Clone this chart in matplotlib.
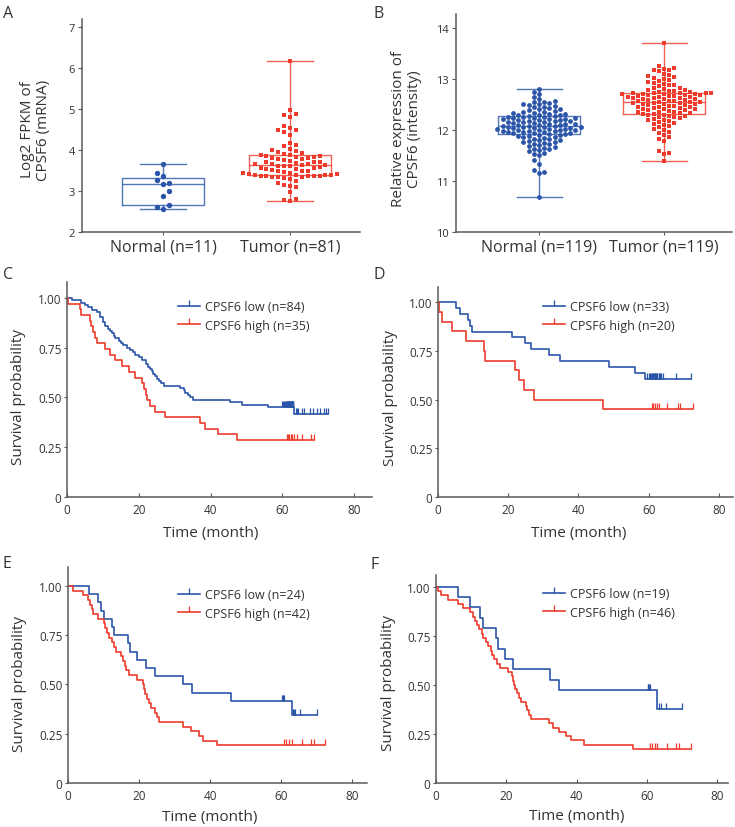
import numpy as np
import matplotlib
matplotlib.use("Agg")
import matplotlib.pyplot as plt
from matplotlib.lines import Line2D

plt.rcParams['font.family'] = ['Open Sans', 'DejaVu Sans']

BLUE = '#2b55a9'
RED = '#ee3b2c'
TXT = '#333333'
SPINE = '#5a5a5a'

# ---- panel A : FPKM (mRNA) ----
a_labels = ['Normal (n=11)', 'Tumor (n=81)']
a_normal = [3.65, 3.44, 3.36, 3.26, 3.18, 3.20, 2.99, 2.88, 2.65, 2.61, 2.55]
a_tumor = [2.75, 2.78, 2.80, 2.98, 3.10, 3.13, 3.15, 3.20, 3.25, 3.30,
           3.33, 3.34, 3.35, 3.35, 3.36, 3.36, 3.37, 3.37, 3.37, 3.38,
           3.39, 3.40, 3.40, 3.41, 3.42, 3.43, 3.45, 3.47, 3.48, 3.50,
           3.50, 3.52, 3.54, 3.55, 3.56, 3.57, 3.58, 3.60, 3.61, 3.62,
           3.63,
           3.64, 3.65, 3.66, 3.67, 3.68, 3.70, 3.71, 3.72, 3.74, 3.75,
           3.77, 3.78, 3.80, 3.81, 3.82, 3.84, 3.85, 3.86, 3.87, 3.88,
           3.90, 3.92, 3.95, 3.97, 4.00, 4.03, 4.10, 4.12, 4.17, 4.37,
           4.45, 4.48, 4.50, 4.55, 4.60, 4.80, 4.85, 4.88, 4.98, 6.18]
# box stats: whislo, q1, med, q3, whishi
a_box_normal = [2.55, 2.67, 3.18, 3.33, 3.65]
a_box_tumor = [2.75, 3.38, 3.63, 3.88, 6.18]

# ---- panel B : intensity ----
b_labels = ['Normal (n=119)', 'Tumor (n=119)']
b_normal = [10.68, 11.15, 11.17, 11.21, 11.33, 11.42, 11.50, 11.53, 11.55, 11.58,
            11.60, 11.62, 11.63, 11.65, 11.67, 11.68, 11.70, 11.72, 11.73, 11.75,
            11.76, 11.77, 11.78, 11.80, 11.80, 11.82, 11.83, 11.85, 11.86, 11.87,
            11.88, 11.89, 11.90, 11.90, 11.91, 11.92, 11.93, 11.93, 11.94, 11.95,
            11.95, 11.96, 11.97, 11.97, 11.98, 11.99, 12.00, 12.00, 12.00, 12.01,
            12.02, 12.02, 12.03, 12.04, 12.04, 12.05, 12.05, 12.06, 12.06, 12.07,
            12.08, 12.08, 12.09, 12.10, 12.10, 12.11, 12.12, 12.12, 12.13, 12.14,
            12.15, 12.15, 12.16, 12.17, 12.18, 12.18, 12.19, 12.20, 12.20, 12.21,
            12.22, 12.22, 12.23, 12.24, 12.24, 12.25, 12.25, 12.26, 12.27,
            12.28, 12.29, 12.30, 12.30, 12.31, 12.32, 12.33, 12.34, 12.35, 12.36,
            12.37, 12.38, 12.40, 12.41, 12.42, 12.44, 12.45, 12.47, 12.48, 12.50,
            12.50, 12.52, 12.54, 12.55, 12.57, 12.60, 12.65, 12.70, 12.75, 12.80]
b_tumor = [11.40, 11.52, 11.55, 11.58, 11.78, 11.82, 11.86, 11.90, 11.93, 11.96,
           12.00, 12.02, 12.05, 12.07, 12.10, 12.12, 12.14, 12.15, 12.17, 12.19,
           12.20, 12.22, 12.23, 12.25, 12.26, 12.27, 12.28, 12.29, 12.30, 12.31,
           12.32, 12.33, 12.34, 12.35, 12.35, 12.36, 12.37, 12.38, 12.39, 12.40,
           12.40, 12.41, 12.42, 12.43, 12.44, 12.45, 12.45, 12.46, 12.47, 12.48,
           12.49, 12.50, 12.50, 12.51, 12.52, 12.52, 12.53, 12.54, 12.54, 12.55,
           12.56, 12.56, 12.57, 12.58, 12.59, 12.60, 12.60, 12.61, 12.62, 12.62,
           12.63, 12.64, 12.65, 12.65, 12.66, 12.67, 12.67, 12.68, 12.69, 12.69,
           12.70, 12.70, 12.71, 12.71, 12.72, 12.72, 12.73, 12.73, 12.73,
           12.74, 12.75, 12.76, 12.77, 12.78, 12.79, 12.80, 12.82, 12.83, 12.85,
           12.87, 12.88, 12.90, 12.92, 12.94, 12.96, 12.98, 13.00, 13.02, 13.03,
           13.05, 13.08, 13.10, 13.15, 13.17, 13.18, 13.20, 13.22, 13.25, 13.70]
b_box_normal = [10.68, 11.92, 12.07, 12.27, 12.80]
b_box_tumor = [11.40, 12.32, 12.55, 12.73, 13.70]

# ---- survival panels: event times and censor times (months) ----
c_low_events = [1.4, 4, 5, 5.8, 7, 8.4, 9.3, 9.3, 10, 10, 10.6, 10.6, 11.5, 12, 12.5,
                13, 13.5, 14.5, 15, 15.5, 16.8, 17.5, 18.5, 19, 20, 21, 22, 22, 22.5,
                23, 23.7, 24, 24.5, 25, 25.5, 26.2, 27, 31.5, 32.5, 33, 33.7, 34.3,
                35, 45.5, 48.7, 56, 63.2]
c_low_censor = [60.0, 60.3, 60.6, 60.8, 61.0, 61.2, 61.3, 61.4, 61.5, 61.6, 61.7, 61.8,
                61.9, 62.0, 62.1, 62.2, 62.3, 62.4, 62.5, 62.6, 62.7, 62.8, 62.9, 63.0,
                63.1, 63.8, 64.0, 64.5, 65.4, 66.0, 67.7, 68.5, 69.6, 70.5, 71.5, 72.2,
                72.8]
c_high_events = [0.3, 3.7, 3.9, 6.5, 6.8, 7.3, 7.7, 8.4, 10.7, 12, 13.5, 15.3, 17.2,
                 19, 20.9, 21.5, 21.9, 22.2, 23, 24.6, 27.4, 37.1, 38.5, 42.2, 47.3]
c_high_censor = [61.2, 61.6, 62.0, 62.4, 62.8, 63.3, 64.0, 65.4, 68.0, 68.7]

d_low_events = [5.1, 6.4, 8.4, 9.2, 9.7, 21, 24.8, 26.4, 31.5, 34.6, 48.8, 56.2, 59]
d_low_censor = [59.6, 60.0, 60.3, 60.6, 60.9, 61.1, 61.3, 61.5, 61.7, 61.9, 62.1,
                62.3, 62.5, 62.8, 63.0, 63.3, 63.6, 64.0, 67.7, 72.0]
d_high_events = [0.3, 1.0, 4.0, 7.9, 13, 13.5, 22, 23, 24.5, 27.4, 47]
d_high_censor = [61.0, 61.3, 61.8, 62.3, 62.8, 65.1, 68.2, 68.8, 72.7]

e_low_events = [6, 8.4, 9.3, 10, 12.3, 13, 17, 17.5, 19.5, 22, 24.5, 32.5, 35, 45.8, 63]
e_low_censor = [60.3, 60.5, 60.6, 60.8, 63.4, 63.6, 64.0, 65.4, 70.0]
e_high_events = [1.4, 4.2, 5.5, 6.2, 6.8, 7.0, 8.5, 10, 10.5, 11, 11.5, 12.3, 13, 13.5,
                 15, 15.5, 16, 16.4, 17.3, 19.5, 21, 21.3, 21.7, 22.2, 22.8, 23.3,
                 24.5, 25, 25.7, 32.5, 34.5, 37, 38, 42]
e_high_censor = [60.8, 61.4, 62.3, 63.1, 65.9, 68.5, 69.2, 72.5]

f_low_events = [6.3, 9.8, 12.5, 13.3, 17, 17.7, 19.5, 22, 32.5, 35, 63]
f_low_censor = [60.2, 60.4, 60.6, 60.8, 63.4, 64.1, 65.5, 70.0]
f_high_events = [0.5, 1.5, 3.5, 6.3, 7.7, 9.8, 10.5, 11, 11.6, 12.3, 13, 13.5, 14.2,
                 14.8, 15.6, 16, 16.5, 17.3, 18.3, 20.5, 21.5, 22, 22.3, 22.6, 23,
                 23.5, 24.3, 25.5, 26, 26.5, 27, 32.3, 33.3, 35, 37, 38.3, 42, 56]
f_high_censor = [61.0, 61.5, 62.2, 63.0, 65.8, 68.3, 69.2, 72.5]

km_labels = {
    'C': ('CPSF6 low (n=84)', 'CPSF6 high (n=35)'),
    'D': ('CPSF6 low (n=33)', 'CPSF6 high (n=20)'),
    'E': ('CPSF6 low (n=24)', 'CPSF6 high (n=42)'),
    'F': ('CPSF6 low (n=19)', 'CPSF6 high (n=46)'),
}

W, H = 735, 828
fig = plt.figure(figsize=(W / 100, H / 100), dpi=100)


def px_axes(l, t, r, b):
    return fig.add_axes([l / W, 1 - b / H, (r - l) / W, (b - t) / H])


def style(ax):
    for s in ['top', 'right']:
        ax.spines[s].set_visible(False)
    for s in ['left', 'bottom']:
        ax.spines[s].set_color(SPINE)
        ax.spines[s].set_linewidth(1.1)
    ax.tick_params(colors=SPINE, labelcolor=TXT, width=0.8)


def swarm(values, center, px_x, px_y, step, gap):
    # simple column beeswarm, in pixel units
    vals = np.asarray(values, float)
    order = np.argsort(vals)
    cols = {}
    xs = np.zeros(len(vals))
    cand = [0]
    for k in range(1, 30):
        cand += [k, -k]
    for j, i in enumerate(order):
        y = vals[i] * px_y
        c_try = cand if j % 2 == 0 else [-c for c in cand]
        for k in c_try:
            if all(abs(y - yy) >= gap for yy in cols.get(k, [])):
                break
        cols.setdefault(k, []).append(y)
        xs[i] = center + k * step / px_x
    return xs


def box_panel(ax, groups, boxes, labels, ylim, yticks, px_x, px_y, ylabel, sizes, step, gap):
    style(ax)
    colors = [BLUE, RED]
    markers = ['o', 's']
    for i, (vals, st) in enumerate(zip(groups, boxes)):
        stats = [dict(whislo=st[0], q1=st[1], med=st[2], q3=st[3], whishi=st[4], fliers=[])]
        lp = dict(color=colors[i], linewidth=1.0, alpha=0.8)
        ax.bxp(stats, positions=[i], widths=0.65, capwidths=0.36, showfliers=False,
               boxprops=lp, whiskerprops=lp, capprops=lp, medianprops=lp)
        xs = swarm(vals, i, px_x, px_y, step, gap)
        ax.scatter(xs, vals, s=sizes[i], marker=markers[i], color=colors[i],
                   linewidths=0, zorder=3)
    ax.set_ylim(*ylim)
    ax.set_yticks(yticks)
    ax.set_xticks([0, 1])
    ax.set_xticklabels(labels, fontsize=11.5)
    ax.tick_params(axis='x', length=2, pad=3)
    ax.tick_params(axis='y', length=3, pad=2, labelsize=8)
    ax.set_ylabel(ylabel, fontsize=11, color=TXT, linespacing=1.15)
    ax.yaxis.label.set_va('center')


# panel A
axA = px_axes(82, 20, 360, 233)
axA.set_xlim(-0.638, 1.551)
box_panel(axA, [a_normal, a_tumor], [a_box_normal, a_box_tumor], a_labels,
          (2, 7.2), range(2, 8), 127, 41, 'Log2 FPKM of\nCPSF6 (mRNA)', [15, 12], 5.9, 5.4)
axA.yaxis.set_label_coords((35.5 - 82) / 278, (233 - 130) / 213)

# panel B
axB = px_axes(456, 15, 732, 233)
axB.set_xlim(-0.664, 1.544)
box_panel(axB, [b_normal, b_tumor], [b_box_normal, b_box_tumor], b_labels,
          (10, 14.27), range(10, 15), 125, 51, 'Relative expression of\nCPSF6 (intensity)',
          [12, 11], 5.2, 5.0)
axB.yaxis.set_label_coords((406.5 - 456) / 276, (233 - 129) / 218)


def km(events, censors):
    times = np.array(list(events) + list(censors), float)
    flags = np.array([1] * len(events) + [0] * len(censors))
    at_risk = len(times)
    s = 1.0
    ts, ss = [0.0], [1.0]
    for ut in np.unique(times):
        d = int(np.sum((times == ut) & (flags == 1)))
        c = int(np.sum((times == ut) & (flags == 0)))
        if d > 0:
            s *= 1 - d / at_risk
            ts.append(ut)
            ss.append(s)
        at_risk -= d + c
    ts.append(times.max())
    ss.append(s)
    ts, ss = np.array(ts), np.array(ss)
    cy = [ss[np.searchsorted(ts[:-1], c, side='right') - 1] for c in censors]
    return ts, ss, cy


def km_panel(ax, curves, labels, xmax, ymax, leg_xy, ylab_x, ylab_y, xlab_y):
    style(ax)
    colors = [BLUE, RED]
    handles = []
    for (ev, ce), col in zip(curves, colors):
        ts, ss, cy = km(ev, ce)
        ax.step(ts, ss, where='post', color=col, linewidth=1.2)
        # censor ticks point upward from the curve
        ax.plot(ce, cy, linestyle='none', marker=2, markersize=4,
                markeredgewidth=0.9, color=col)
        handles.append(Line2D([], [], color=col, linewidth=1.2, marker=2,
                              markersize=4, markeredgewidth=0.9))
    ax.set_xlim(0, xmax)
    ax.set_ylim(0, ymax)
    ax.set_xticks([0, 20, 40, 60, 80])
    ax.set_yticks([0, 0.25, 0.5, 0.75, 1.0])
    ax.set_yticklabels(['0', '0.25', '0.50', '0.75', '1.00'])
    ax.tick_params(axis='x', direction='in', length=3, pad=4, labelsize=8.5)
    ax.tick_params(axis='y', length=2, pad=2, labelsize=8.5)
    ax.set_xlabel('Time (month)', fontsize=11, color=TXT)
    ax.set_ylabel('Survival probability', fontsize=11, color=TXT)
    ax.xaxis.label.set_va('center')
    ax.yaxis.label.set_va('center')
    ax.xaxis.set_label_coords(40 / xmax, xlab_y)
    ax.yaxis.set_label_coords(ylab_x, ylab_y)
    ax.legend(handles, labels, loc='upper left',
              bbox_to_anchor=(leg_xy[0] / W, 1 - leg_xy[1] / H),
              bbox_transform=fig.transFigure, frameon=False, fontsize=9,
              handlelength=1.75, handletextpad=0.4, labelspacing=0.45,
              borderpad=0, borderaxespad=0, labelcolor=TXT)


axC = px_axes(67, 283, 372, 498)
km_panel(axC, [(c_low_events, c_low_censor), (c_high_events, c_high_censor)],
         km_labels['C'], 85.0, 1.08, (178, 301),
         (19 - 67) / 305, (498 - 397) / 215, -(533 - 498) / 215)

axD = px_axes(438, 288, 733, 498)
km_panel(axD, [(d_low_events, d_low_censor), (d_high_events, d_high_censor)],
         km_labels['D'], 84.0, 1.077, (543, 301),
         (390 - 438) / 295, (498 - 398) / 210, -(533 - 498) / 210)

axE = px_axes(68, 568, 367, 784)
km_panel(axE, [(e_low_events, e_low_censor), (e_high_events, e_high_censor)],
         km_labels['E'], 84.2, 1.096, (178, 589),
         (19.7 - 68) / 299, (784 - 684) / 216, -(818 - 784) / 216)

axF = px_axes(436, 576, 728, 784)
km_panel(axF, [(f_low_events, f_low_censor), (f_high_events, f_high_censor)],
         km_labels['F'], 83.1, 1.06, (543, 588),
         (388.7 - 436) / 292, (784 - 683) / 208, -(817 - 784) / 208)

# panel letters
for letter, (x, y) in {'A': (3, 6), 'B': (373, 6), 'C': (3, 267),
                       'D': (373, 267), 'E': (3, 556), 'F': (371, 557)}.items():
    fig.text(x / W, 1 - y / H, letter, fontsize=11.5, color=TXT, va='top', ha='left')

fig.savefig('out.png', dpi=100)
